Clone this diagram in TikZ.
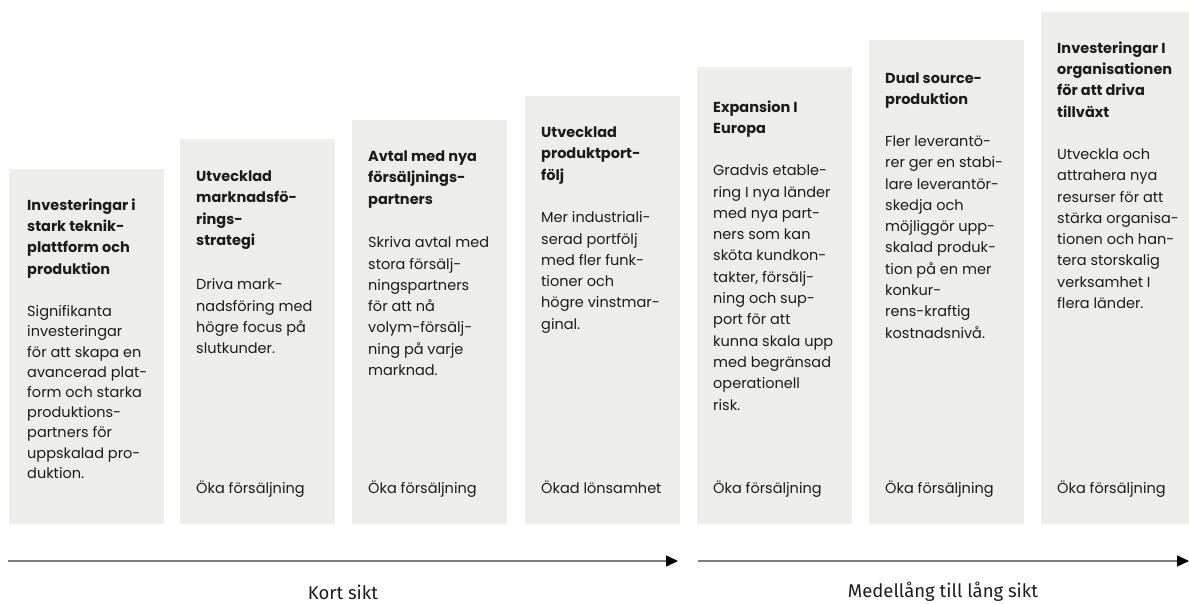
\documentclass[tikz,border=0pt]{standalone}
\usepackage{fontspec}
\setmainfont{Poppins}
\newfontfamily\axisfont{Fira Sans}
\usetikzlibrary{arrows.meta}
\definecolor{boxgray}{HTML}{EDEEEB}
\definecolor{ink}{HTML}{1C1C1C}
\definecolor{axisgray}{HTML}{7F7F7F}

\begin{document}
\begin{tikzpicture}[x=1pt,y=-1pt,
  box/.style={fill=boxgray,anchor=north west,inner sep=0,minimum width=155pt},
  head/.style={anchor=north west,inner sep=0,align=left,text=ink,font=\fontsize{14.5}{21.3}\selectfont\bfseries},
  txt/.style={anchor=north west,inner sep=0,align=left,text=ink,font=\fontsize{14.5}{21.3}\selectfont},
  axis/.style={draw=axisgray,line width=1.5pt,-{Triangle[length=12pt,width=11pt,color=black]}},
  lbl/.style={text=ink,font=\axisfont\fontsize{18.5}{22}\selectfont}]
\clip (0,0) rectangle (1189,604);

% Boxes
\node[box,minimum height=355pt] (b1) at (9,169) {};
\node[box,minimum height=385pt] (b2) at (180,139) {};
\node[box,minimum height=404pt] (b3) at (352,120) {};
\node[box,minimum height=428pt] (b4) at (525,96) {};
\node[box,minimum height=457pt] (b5) at (697,67) {};
\node[box,minimum height=484pt] (b6) at (869,40) {};
\node[box,minimum height=512pt] (b7) at (1041,12) {};

% Titles
\node[head] (t1) at (27,198.5) {Investeringar i\\stark teknik-\\plattform och\\produktion};
\node[head] (t2) at (196,170.5) {Utvecklad\\marknadsfö-\\rings-\\strategi};
\node[head] (t3) at (368,150.5) {Avtal med nya\\försäljnings-\\partners};
\node[head] (t4) at (541,126.5) {Utvecklad\\produktport-\\följ};
\node[head] (t5) at (713,100.5) {Expansion I\\Europa};
\node[head] (t6) at (885,72.5) {Dual source-\\produktion};
\node[head] (t7) at (1057,41.5) {Investeringar I\\organisationen\\för att driva\\tillväxt};

% Texts
\node[txt,font=\fontsize{14.5}{20.2}\selectfont] (d1) at (27,305.5) {Signifikanta\\investeringar\\för att skapa en\\avancerad plat-\\form och starka\\produktions-\\partners för\\uppskalad pro-\\duktion.};
\node[txt] (d2) at (196,278.5) {Driva mark-\\nadsföring med\\högre focus på\\slutkunder.};
\node[txt] (d3) at (368,236.5) {Skriva avtal med\\stora försälj-\\ningspartners\\för att nå\\volym-försälj-\\ning på varje\\marknad.};
\node[txt] (d4) at (541,211.5) {Mer industriali-\\serad portfölj\\med fler funk-\\tioner och\\högre vinstmar-\\ginal.};
\node[txt] (d5) at (713,164.5) {Gradvis etable-\\ring I nya länder\\med nya part-\\ners som kan\\sköta kundkon-\\takter, försälj-\\ning och sup-\\port för att\\kunna skala upp\\med begränsad\\operationell\\risk.};
\node[txt] (d6) at (885,135.5) {Fler leverantö-\\rer ger en stabi-\\lare leverantör-\\skedja och\\möjliggör upp-\\skalad produk-\\tion på en mer\\konkur-\\rens-kraftig\\kostnadsnivå.};
\node[txt] (d7) at (1057,148.5) {Utveckla och\\attrahera nya\\resurser för att\\stärka organisa-\\tionen och han-\\tera storskalig\\verksamhet I\\flera länder.};

% Results
\node[txt] (r2) at (196,481) {Öka försäljning};
\node[txt] (r3) at (368,481) {Öka försäljning};
\node[txt] (r4) at (541,481) {Ökad lönsamhet};
\node[txt] (r5) at (713,481) {Öka försäljning};
\node[txt] (r6) at (885,481) {Öka försäljning};
\node[txt] (r7) at (1057,481) {Öka försäljning};

% Time axis
\coordinate (s1) at (8,561);
\coordinate (e1) at (678,561);
\coordinate (s2) at (698,561);
\coordinate (e2) at (1189,561);
\draw[axis] (s1) -- (e1);
\draw[axis] (s2) -- (e2);
\node[lbl] (k1) at (343,592) {Kort sikt};
\node[lbl] (k2) at (943,592) {Medellång till lång sikt};

\end{tikzpicture}
\end{document}
